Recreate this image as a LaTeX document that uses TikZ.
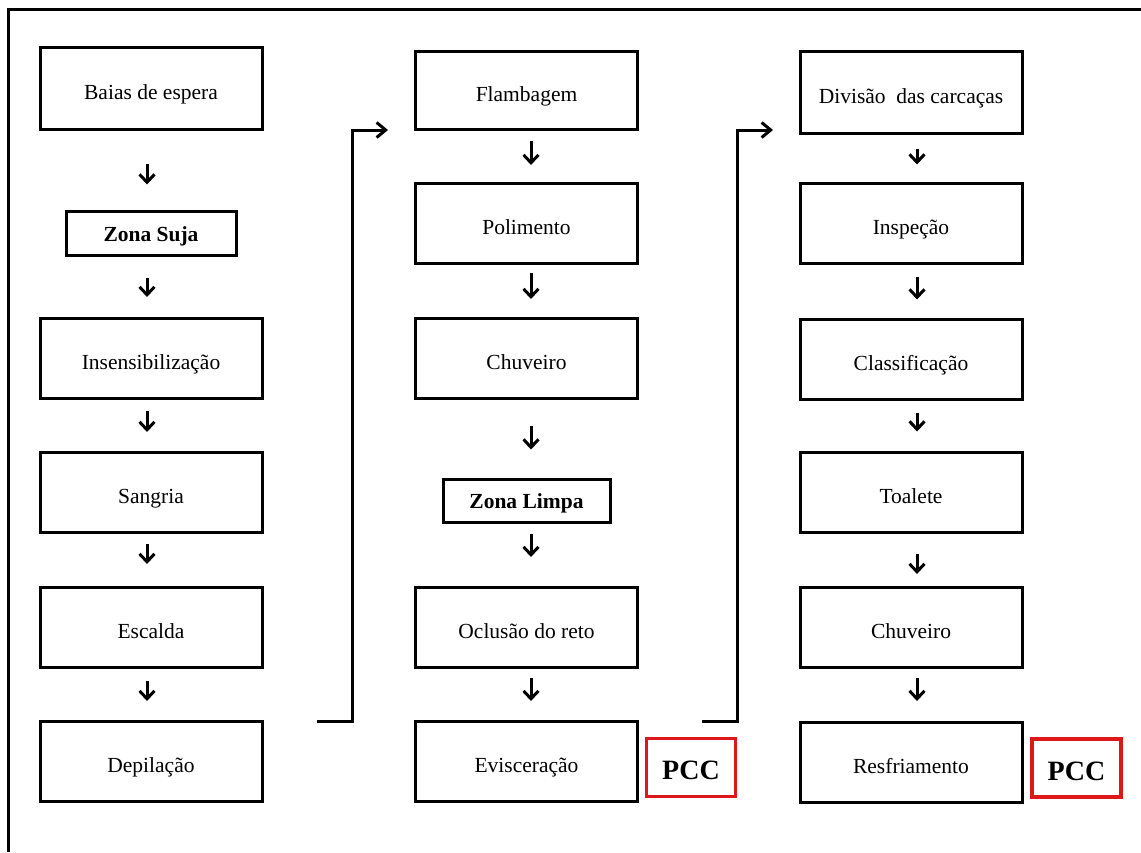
\documentclass[tikz,border=0pt]{standalone}
\usepackage{fontspec}
\setmainfont{Liberation Serif}
\usetikzlibrary{arrows.meta}
\tikzset{
  stepbox/.style={draw=black, line width=3pt, minimum width=222pt, minimum height=80pt, inner sep=0pt, text height=22.5pt, text depth=0pt, font=\fontsize{21.5}{26}\selectfont},
  zonebox/.style={draw=black, line width=3pt, inner sep=0pt, text height=16.5pt, text depth=0pt, font=\fontsize{21.5}{26}\selectfont\bfseries},
  pccbox/.style={draw=pccred, line width=3.5pt, minimum width=89pt, minimum height=58pt, inner sep=0pt, text height=24.5pt, text depth=0pt, font=\fontsize{28}{32}\selectfont\bfseries},
  flow/.style={line width=3pt, -{Straight Barb[length=8pt,width=15pt,line width=3pt]}},
  link/.style={line width=3pt, -{Straight Barb[length=9pt,width=15pt,line width=3pt]}}
}
\definecolor{pccred}{RGB}{222,24,24}
\newcommand\flowarrow[5]{\draw[flow, shorten <=#3pt, shorten >=#4pt] ([xshift=#5pt]#1.south) -- ([xshift=#5pt]#2.north);}
\begin{document}
\begin{tikzpicture}[x=1pt,y=-1pt]
\useasboundingbox (0,0) rectangle (1141,852);
\fill[white] (0,0) rectangle (1141,852);
% frame (only top and left visible)
\draw[line width=3pt] (8,852) -- (8,9) -- (1141,9);

% column 1
\node[stepbox, minimum height=82pt] (baias) at (151,88) {Baias de espera};
\node[zonebox, minimum width=170pt, minimum height=44pt] (suja) at (151,233) {Zona Suja};
\node[stepbox] (insens) at (151,358.5) {Insensibilização};
\node[stepbox] (sangria) at (151,492.5) {Sangria};
\node[stepbox] (escalda) at (151,627.5) {Escalda};
\node[stepbox] (depil) at (151,761.5) {Depilação};

% column 2
\node[stepbox, minimum height=78pt] (flamb) at (526.5,90) {Flambagem};
\node[stepbox] (polim) at (526.5,223.5) {Polimento};
\node[stepbox] (chuv1) at (526.5,358.5) {Chuveiro};
\node[zonebox, minimum width=167pt, minimum height=43pt] (limpa) at (526.5,500.5) {Zona Limpa};
\node[stepbox] (oclus) at (526.5,627.5) {Oclusão do reto};
\node[stepbox] (evisc) at (526.5,761.5) {Evisceração};
\node[pccbox] (pcc1) at (691,767.5) {PCC};

% column 3
\node[stepbox, minimum height=82pt] (divis) at (911,92) {Divisão\ \ das carcaças};
\node[stepbox] (insp) at (911,223) {Inspeção};
\node[stepbox] (classif) at (911,359) {Classificação};
\node[stepbox] (toal) at (911,492) {Toalete};
\node[stepbox] (chuv2) at (911,627.5) {Chuveiro};
\node[stepbox] (resfr) at (911,762.5) {Resfriamento};
\node[pccbox] (pcc2) at (1076.5,768) {PCC};

% arrows column 1
\flowarrow{baias}{suja}{33}{25}{-4}
\flowarrow{suja}{insens}{21}{20}{-4}
\flowarrow{insens}{sangria}{11}{19}{-4}
\flowarrow{sangria}{escalda}{10}{22}{-4}
\flowarrow{escalda}{depil}{12}{19}{-4}

% arrows column 2
\flowarrow{flamb}{polim}{10}{17}{4.5}
\flowarrow{polim}{chuv1}{8}{18}{4.5}
\flowarrow{chuv1}{limpa}{26}{28}{4.5}
\flowarrow{limpa}{oclus}{10}{29}{4.5}
\flowarrow{oclus}{evisc}{9}{19}{4.5}

% arrows column 3
\flowarrow{divis}{insp}{14}{17}{6}
\flowarrow{insp}{classif}{12}{18}{6}
\flowarrow{classif}{toal}{12}{19}{6}
\flowarrow{toal}{chuv2}{20}{12}{6}
\flowarrow{chuv2}{resfr}{9}{20}{6}

% connectors between columns
\coordinate (l1s) at (317,721);
\coordinate (l1x) at (352,130);
\coordinate (l1e) at (388,130);
\draw[link] (l1s) -| (l1x) -- (l1e);

\coordinate (l2s) at (702,721);
\coordinate (l2x) at (737,130);
\coordinate (l2e) at (773,130);
\draw[link] (l2s) -| (l2x) -- (l2e);
\end{tikzpicture}
\end{document}
